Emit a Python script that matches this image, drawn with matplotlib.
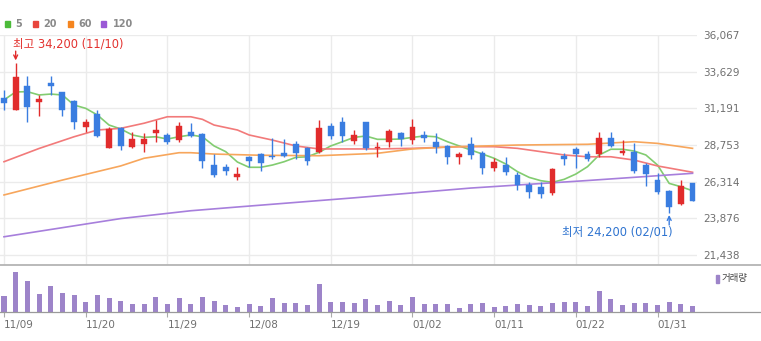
import matplotlib
matplotlib.use('Agg')
import matplotlib.pyplot as plt
from matplotlib.patches import Rectangle
from matplotlib.lines import Line2D

# ---------------- data ----------------
opens  = [31900, 31100, 32650, 31600, 32900, 32250, 31650, 29950, 30800, 28550,
          29850, 28650, 28800, 29550, 29400, 29100, 29650, 29500, 27400, 27300,
          26600, 27950, 28150, 28050, 28250, 28850, 28550, 28300, 30000, 30250,
          29050, 30250, 28550, 28950, 29550, 29100, 29400, 28950, 28700, 27950,
          28800, 28250, 27250, 27400, 26750, 26100, 25950, 25550, 28050, 28500,
          28150, 28150, 29250, 28250, 28300, 27400, 26400, 25700, 24850, 26250]
highs  = [32400, 34200, 33350, 32100, 33350, 32300, 31750, 30500, 31100, 29950,
          29950, 29650, 29550, 30400, 29550, 30300, 30200, 29550, 28150, 27500,
          27300, 28050, 28200, 29200, 29150, 29000, 28600, 30400, 30200, 30600,
          29750, 30300, 28950, 29800, 29600, 30500, 29700, 29550, 28750, 28300,
          29300, 28350, 27900, 27950, 26950, 26300, 26300, 27250, 28250, 28600,
          28350, 29650, 29650, 29100, 28900, 27550, 26900, 25750, 26400, 26250]
lows   = [31050, 31050, 30250, 30650, 32100, 30700, 29800, 29650, 29300, 28550,
          28450, 28550, 28300, 28950, 28800, 28950, 29300, 27250, 26650, 26750,
          26400, 27300, 27050, 27800, 27950, 27850, 27400, 28250, 29150, 28950,
          28800, 28450, 27950, 28650, 28700, 28800, 28950, 28250, 27500, 27500,
          27850, 26800, 27050, 26750, 25750, 25250, 25250, 25400, 27400, 27250,
          27700, 27950, 28600, 28100, 26900, 26000, 25500, 24200, 24750, 25000]
closes = [31550, 33250, 31300, 31800, 32700, 31050, 30300, 30250, 29350, 29800,
          28700, 29150, 29150, 29750, 28950, 30000, 29350, 27700, 26750, 27050,
          26800, 27700, 27550, 27950, 28000, 28250, 27700, 29850, 29350, 29350,
          29400, 28550, 28600, 29700, 29150, 29950, 29250, 28600, 27950, 28150,
          28100, 27200, 27650, 26950, 26100, 25600, 25500, 27150, 27800, 28150,
          27850, 29250, 28700, 28350, 27050, 26850, 25600, 24650, 26000, 25000]
volumes = [470, 1200, 940, 540, 770, 570, 520, 300, 510, 410,
           340, 250, 250, 440, 250, 410, 250, 440, 340, 210,
           140, 250, 180, 410, 280, 280, 210, 840, 310, 310,
           280, 380, 210, 340, 210, 440, 250, 250, 250, 120,
           250, 280, 150, 180, 250, 210, 180, 280, 310, 310,
           180, 640, 380, 210, 280, 280, 210, 310, 250, 180]

ma5 = [31750, 32280, 32300, 32080, 32140, 32080, 31410, 31190, 30750, 30080,
       29820, 29420, 29260, 29300, 29150, 29300, 29420, 29300, 28690, 28310,
       27620, 27270, 27270, 27420, 27640, 27930, 27970, 28270, 28690, 28970,
       29260, 29350, 29130, 29130, 29150, 29260, 29350, 29300, 28970, 28690,
       28420, 28150, 27870, 27490, 26980, 26600, 26380, 26270, 26470, 26820,
       27310, 28090, 28470, 28470, 28350, 28090, 27420, 26200, 25980, 25710]
ma20_idx = [0, 3, 6, 8, 10, 12, 14, 16, 17, 18, 20, 21, 23, 25, 27, 32, 35, 39,
            42, 44, 46, 48, 50, 52, 54, 56, 59]
ma20 = [27640, 28520, 29300, 29750, 29860, 30200, 30630, 30630, 30460, 30080,
        29750, 29420, 29080, 28690, 28490, 28490, 28530, 28640, 28640, 28530,
        28310, 28090, 27970, 27970, 27750, 27360, 26940]
ma60_idx = [0, 5, 10, 12, 15, 16, 18, 22, 27, 32, 35, 38, 44, 50, 54, 56, 59]
ma60 = [25430, 26420, 27360, 27870, 28240, 28240, 28150, 28070, 28040, 28200,
        28490, 28620, 28750, 28800, 28970, 28860, 28530]
ma120_idx = [0, 10, 16, 20, 30, 40, 50, 59]
ma120 = [22650, 23860, 24380, 24630, 25240, 25890, 26390, 26870]

tick_labels = ['11/09', '11/20', '11/29', '12/08', '12/19', '01/02', '01/11', '01/22', '01/31']
y_ticks = [36067, 33629, 31191, 28753, 26314, 23876, 21438]
legend_labels = ['5', '20', '60', '120']

# ---------------- style ----------------
W, H = 761, 341
RED, BLUE = '#e12c2c', '#3a7de0'
VOL = '#9d84c9'
MA_COLORS = ['#82cc70', '#f27a7a', '#f7a65c', '#a77fdc']
LEG_COLORS = ['#4cbb3a', '#e8453c', '#f5851f', '#9b59d6']
GRID = '#ebebeb'
TXT = '#6f6f6f'

fig = plt.figure(figsize=(W / 100, H / 100), dpi=100)

def fx(x):
    return x / W

def fy(y):
    return 1 - y / H

ax = fig.add_axes([0, fy(265), fx(697), (265 - 35) / H])
axv = fig.add_axes([0, fy(312), fx(697), (312 - 266) / H])

n = len(closes)
xs = list(range(n))
xmin = -4 / 11.67
xmax = (697 - 4) / 11.67
scale = (y_ticks[0] - y_ticks[-1]) / 220.0
ax.set_xlim(xmin, xmax)
ax.set_ylim(y_ticks[0] - 230 * scale, y_ticks[0])

# candles
for i in xs:
    o, h, l, c = opens[i], highs[i], lows[i], closes[i]
    col = RED if c > o else BLUE
    ax.vlines(i, l, h, color=col, lw=1.0, zorder=3)
    body = max(abs(c - o), scale * 1.2)
    ax.bar(i, body, bottom=min(o, c), width=0.5, color=col, edgecolor=col, lw=0.3, zorder=4)

# moving averages
ax.plot(xs, ma5, color=MA_COLORS[0], lw=1.2, zorder=2)
ax.plot(ma20_idx, ma20, color=MA_COLORS[1], lw=1.2, zorder=2)
ax.plot(ma60_idx, ma60, color=MA_COLORS[2], lw=1.2, zorder=2)
ax.plot(ma120_idx, ma120, color=MA_COLORS[3], lw=1.2, zorder=2)

ticks = list(range(0, n, 7))
ax.set_xticks(ticks)
ax.set_xticklabels([])
ax.tick_params(axis='x', length=0)
ax.set_yticks(y_ticks)
ax.set_yticklabels([f'{v:,}' for v in y_ticks])
ax.yaxis.tick_right()
ax.tick_params(axis='y', length=0, pad=4.3, labelsize=7.5, labelcolor=TXT)
ax.grid(True, color=GRID, lw=1.0, zorder=0)
ax.set_axisbelow(True)
for s in ax.spines.values():
    s.set_visible(False)

# high / low annotations
imax = highs.index(max(highs))
imin = lows.index(min(lows))
kfont = ['DejaVu Sans', 'Noto Sans CJK KR']
ax.annotate('', xy=(imax, highs[imax]), xytext=(0, 8.6), textcoords='offset points',
            arrowprops=dict(arrowstyle='->', color=RED, lw=1.0, shrinkA=0, shrinkB=1.9,
                            mutation_scale=7))
ax.annotate(f'최고 {highs[imax]:,} (11/10)', xy=(imax, highs[imax]), xytext=(-2.2, 14),
            textcoords='offset points', ha='left', va='center', color='#e3322f',
            fontsize=8.3, family=kfont)
ax.annotate('', xy=(imin, lows[imin]), xytext=(0, -8.3), textcoords='offset points',
            arrowprops=dict(arrowstyle='->', color=BLUE, lw=1.0, shrinkA=0, shrinkB=1.1,
                            mutation_scale=7))
ax.annotate(f'최저 {lows[imin]:,} (02/01)', xy=(imin, lows[imin]), xytext=(2.7, -13.7),
            textcoords='offset points', ha='right', va='center', color='#2f74d0',
            fontsize=8.3, family=kfont)

# volume
axv.bar(xs, volumes, width=0.43, color=VOL, zorder=2)
axv.set_xlim(xmin, xmax)
axv.set_ylim(0, max(volumes) * 46 / 40)
axv.set_yticks([])
axv.set_xticks(ticks)
axv.set_xticklabels(tick_labels, ha='left')
axv.tick_params(axis='x', length=3.3, width=0.8, color='#aaaaaa', pad=2.5,
                labelsize=7.5, labelcolor=TXT)
for s in axv.spines.values():
    s.set_visible(False)

# separators
fig.add_artist(Line2D([0, 1], [fy(265), fy(265)], transform=fig.transFigure,
                      color='#b4b4b4', lw=1.3))
fig.add_artist(Line2D([0, 1], [fy(312.3), fy(312.3)], transform=fig.transFigure,
                      color='#9a9a9a', lw=0.9))

# volume legend
fig.add_artist(Rectangle((fx(716.2), fy(282.7)), fx(2.8), (282.7 - 275) / H,
                         transform=fig.transFigure, color=VOL))
fig.text(fx(721.5), fy(279), '거래량', fontsize=6.8, family=['Noto Sans CJK KR', 'DejaVu Sans'],
         color='#444444', ha='left', va='center')

# MA legend
sq_x = [5, 33, 68, 101]
tx_x = [15, 43, 78, 113]
for lab, col, sx, tx in zip(legend_labels, LEG_COLORS, sq_x, tx_x):
    fig.add_artist(Rectangle((fx(sx), fy(26.5)), fx(5), 5.5 / H,
                             transform=fig.transFigure, color=col))
    fig.text(fx(tx), fy(23.7), lab, fontsize=7, fontweight='bold', color='#8a8a8a',
             ha='left', va='center')

fig.savefig('out.png', dpi=100)
